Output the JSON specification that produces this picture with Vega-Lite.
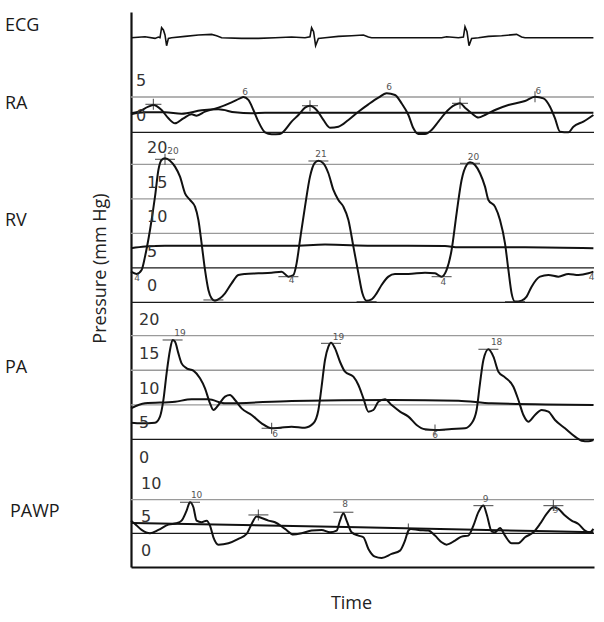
{
 "$schema": "https://vega.github.io/schema/vega-lite/v6.json",
 "width": 463, "height": 555,
 "autosize": {"type": "none"},
 "padding": {"left": 131, "top": 12, "right": 10, "bottom": 55},
 "background": "white",
 "config": {"view": {"stroke": null}, "text": {"font": "Open Sans"},
  "axisX": {"orient": "bottom", "domain": true, "domainColor": "#111111", "domainWidth": 2.2, "ticks": false, "labels": false, "grid": false,
            "titleFont": "Open Sans", "titleFontSize": 18, "titleFontWeight": "normal", "titleColor": "#222222",
            "titleX": 220, "titleY": 41, "titleAlign": "center", "titleBaseline": "alphabetic"}},
 "datasets": {
  "waves": [
   {"panel":"ECG","series":"wave","t":0,"value":0},{"panel":"ECG","series":"wave","t":0.07,"value":0.1},{"panel":"ECG","series":"wave","t":0.12,"value":-0.07},{"panel":"ECG","series":"wave","t":0.137,"value":0.07},{"panel":"ECG","series":"wave","t":0.145,"value":0},{"panel":"ECG","series":"wave","t":0.153,"value":1.0},{"panel":"ECG","series":"wave","t":0.162,"value":0.77},{"panel":"ECG","series":"wave","t":0.17,"value":0.27},{"panel":"ECG","series":"wave","t":0.178,"value":-0.8},{"panel":"ECG","series":"wave","t":0.187,"value":-0.07},{"panel":"ECG","series":"wave","t":0.203,"value":0},{"panel":"ECG","series":"wave","t":0.27,"value":0.13},{"panel":"ECG","series":"wave","t":0.337,"value":0.27},{"panel":"ECG","series":"wave","t":0.403,"value":0.33},{"panel":"ECG","series":"wave","t":0.428,"value":0.2},{"panel":"ECG","series":"wave","t":0.453,"value":0},{"panel":"ECG","series":"wave","t":0.553,"value":-0.07},{"panel":"ECG","series":"wave","t":0.637,"value":-0.07},{"panel":"ECG","series":"wave","t":0.72,"value":0},{"panel":"ECG","series":"wave","t":0.803,"value":0.07},{"panel":"ECG","series":"wave","t":0.87,"value":0},{"panel":"ECG","series":"wave","t":0.895,"value":0.1},{"panel":"ECG","series":"wave","t":0.903,"value":1.0},{"panel":"ECG","series":"wave","t":0.913,"value":0.6},{"panel":"ECG","series":"wave","t":0.923,"value":-0.8},{"panel":"ECG","series":"wave","t":0.937,"value":-0.07},{"panel":"ECG","series":"wave","t":0.97,"value":0},{"panel":"ECG","series":"wave","t":1.037,"value":0.13},{"panel":"ECG","series":"wave","t":1.103,"value":0.2},{"panel":"ECG","series":"wave","t":1.162,"value":0.27},{"panel":"ECG","series":"wave","t":1.187,"value":0.07},{"panel":"ECG","series":"wave","t":1.203,"value":0},{"panel":"ECG","series":"wave","t":1.553,"value":0},{"panel":"ECG","series":"wave","t":1.578,"value":0.1},{"panel":"ECG","series":"wave","t":1.637,"value":0},{"panel":"ECG","series":"wave","t":1.662,"value":0.07},{"panel":"ECG","series":"wave","t":1.67,"value":1.1},{"panel":"ECG","series":"wave","t":1.68,"value":0.6},{"panel":"ECG","series":"wave","t":1.69,"value":-0.8},{"panel":"ECG","series":"wave","t":1.703,"value":-0.07},{"panel":"ECG","series":"wave","t":1.737,"value":0},{"panel":"ECG","series":"wave","t":1.787,"value":0.13},{"panel":"ECG","series":"wave","t":1.853,"value":0.2},{"panel":"ECG","series":"wave","t":1.928,"value":0.33},{"panel":"ECG","series":"wave","t":1.953,"value":0.07},{"panel":"ECG","series":"wave","t":1.97,"value":0},{"panel":"ECG","series":"wave","t":2.312,"value":0},

   {"panel":"RA","series":"wave","t":0,"value":2.69},{"panel":"RA","series":"wave","t":0.037,"value":2.92},{"panel":"RA","series":"wave","t":0.087,"value":3.63},{"panel":"RA","series":"wave","t":0.112,"value":3.87},{"panel":"RA","series":"wave","t":0.153,"value":3.16},{"panel":"RA","series":"wave","t":0.187,"value":1.98},{"panel":"RA","series":"wave","t":0.22,"value":1.27},{"panel":"RA","series":"wave","t":0.262,"value":1.98},{"panel":"RA","series":"wave","t":0.303,"value":2.55},{"panel":"RA","series":"wave","t":0.328,"value":2.36},{"panel":"RA","series":"wave","t":0.37,"value":2.92},{"panel":"RA","series":"wave","t":0.437,"value":3.49},{"panel":"RA","series":"wave","t":0.503,"value":4.25},{"panel":"RA","series":"wave","t":0.545,"value":4.81},{"panel":"RA","series":"wave","t":0.562,"value":5.0},{"panel":"RA","series":"wave","t":0.587,"value":4.58},{"panel":"RA","series":"wave","t":0.612,"value":3.16},{"panel":"RA","series":"wave","t":0.637,"value":1.51},{"panel":"RA","series":"wave","t":0.67,"value":0},{"panel":"RA","series":"wave","t":0.703,"value":-0.28},{"panel":"RA","series":"wave","t":0.745,"value":-0.24},{"panel":"RA","series":"wave","t":0.77,"value":0.33},{"panel":"RA","series":"wave","t":0.803,"value":1.51},{"panel":"RA","series":"wave","t":0.837,"value":2.45},{"panel":"RA","series":"wave","t":0.87,"value":3.49},{"panel":"RA","series":"wave","t":0.895,"value":3.77},{"panel":"RA","series":"wave","t":0.928,"value":3.16},{"panel":"RA","series":"wave","t":0.962,"value":1.75},{"panel":"RA","series":"wave","t":0.995,"value":0.66},{"panel":"RA","series":"wave","t":1.037,"value":0.8},{"panel":"RA","series":"wave","t":1.087,"value":1.75},{"panel":"RA","series":"wave","t":1.137,"value":2.92},{"panel":"RA","series":"wave","t":1.187,"value":3.96},{"panel":"RA","series":"wave","t":1.237,"value":4.91},{"panel":"RA","series":"wave","t":1.278,"value":5.52},{"panel":"RA","series":"wave","t":1.32,"value":5.28},{"panel":"RA","series":"wave","t":1.353,"value":4.1},{"panel":"RA","series":"wave","t":1.387,"value":2.45},{"panel":"RA","series":"wave","t":1.412,"value":0.57},{"panel":"RA","series":"wave","t":1.437,"value":-0.24},{"panel":"RA","series":"wave","t":1.47,"value":-0.24},{"panel":"RA","series":"wave","t":1.503,"value":0.33},{"panel":"RA","series":"wave","t":1.537,"value":1.51},{"panel":"RA","series":"wave","t":1.57,"value":2.69},{"panel":"RA","series":"wave","t":1.62,"value":3.87},{"panel":"RA","series":"wave","t":1.645,"value":4.1},{"panel":"RA","series":"wave","t":1.67,"value":3.49},{"panel":"RA","series":"wave","t":1.703,"value":2.69},{"panel":"RA","series":"wave","t":1.737,"value":2.08},{"panel":"RA","series":"wave","t":1.77,"value":2.45},{"panel":"RA","series":"wave","t":1.82,"value":3.16},{"panel":"RA","series":"wave","t":1.887,"value":3.87},{"panel":"RA","series":"wave","t":1.97,"value":4.43},{"panel":"RA","series":"wave","t":2.02,"value":5.05},{"panel":"RA","series":"wave","t":2.062,"value":4.81},{"panel":"RA","series":"wave","t":2.095,"value":3.63},{"panel":"RA","series":"wave","t":2.12,"value":1.98},{"panel":"RA","series":"wave","t":2.145,"value":0.09},{"panel":"RA","series":"wave","t":2.187,"value":0},{"panel":"RA","series":"wave","t":2.212,"value":0.8},{"panel":"RA","series":"wave","t":2.262,"value":1.51},{"panel":"RA","series":"wave","t":2.312,"value":2.45},
   {"panel":"RA","series":"mean","t":0,"value":2.55},{"panel":"RA","series":"mean","t":0.07,"value":2.83},{"panel":"RA","series":"mean","t":0.17,"value":2.83},{"panel":"RA","series":"mean","t":0.253,"value":2.64},{"panel":"RA","series":"mean","t":0.353,"value":3.11},{"panel":"RA","series":"mean","t":0.437,"value":3.25},{"panel":"RA","series":"mean","t":0.52,"value":2.83},{"panel":"RA","series":"mean","t":0.603,"value":2.69},{"panel":"RA","series":"mean","t":0.67,"value":2.78},{"panel":"RA","series":"mean","t":2.312,"value":2.78},

   {"panel":"RV","series":"wave","t":0,"value":4.44},{"panel":"RV","series":"wave","t":0.028,"value":4.11},{"panel":"RV","series":"wave","t":0.053,"value":4.69},{"panel":"RV","series":"wave","t":0.07,"value":6.62},{"panel":"RV","series":"wave","t":0.095,"value":10.48},{"panel":"RV","series":"wave","t":0.12,"value":15.31},{"panel":"RV","series":"wave","t":0.137,"value":19.18},{"panel":"RV","series":"wave","t":0.153,"value":20.63},{"panel":"RV","series":"wave","t":0.17,"value":20.87},{"panel":"RV","series":"wave","t":0.195,"value":20.53},{"panel":"RV","series":"wave","t":0.22,"value":19.66},{"panel":"RV","series":"wave","t":0.245,"value":18.21},{"panel":"RV","series":"wave","t":0.27,"value":15.8},{"panel":"RV","series":"wave","t":0.295,"value":14.83},{"panel":"RV","series":"wave","t":0.32,"value":13.86},{"panel":"RV","series":"wave","t":0.337,"value":11.93},{"panel":"RV","series":"wave","t":0.353,"value":8.55},{"panel":"RV","series":"wave","t":0.37,"value":4.69},{"panel":"RV","series":"wave","t":0.387,"value":1.79},{"panel":"RV","series":"wave","t":0.403,"value":0.58},{"panel":"RV","series":"wave","t":0.42,"value":0.24},{"panel":"RV","series":"wave","t":0.445,"value":0.58},{"panel":"RV","series":"wave","t":0.47,"value":1.3},{"panel":"RV","series":"wave","t":0.503,"value":2.75},{"panel":"RV","series":"wave","t":0.537,"value":3.96},{"panel":"RV","series":"wave","t":0.57,"value":4.11},{"panel":"RV","series":"wave","t":0.637,"value":4.2},{"panel":"RV","series":"wave","t":0.703,"value":4.3},{"panel":"RV","series":"wave","t":0.753,"value":4.44},{"panel":"RV","series":"wave","t":0.787,"value":3.72},{"panel":"RV","series":"wave","t":0.812,"value":3.96},{"panel":"RV","series":"wave","t":0.828,"value":5.65},{"panel":"RV","series":"wave","t":0.845,"value":9.03},{"panel":"RV","series":"wave","t":0.87,"value":13.86},{"panel":"RV","series":"wave","t":0.895,"value":18.21},{"panel":"RV","series":"wave","t":0.917,"value":20.14},{"panel":"RV","series":"wave","t":0.937,"value":20.53},{"panel":"RV","series":"wave","t":0.962,"value":20.14},{"panel":"RV","series":"wave","t":0.987,"value":18.7},{"panel":"RV","series":"wave","t":1.012,"value":16.28},{"panel":"RV","series":"wave","t":1.037,"value":14.83},{"panel":"RV","series":"wave","t":1.062,"value":13.86},{"panel":"RV","series":"wave","t":1.087,"value":11.93},{"panel":"RV","series":"wave","t":1.112,"value":8.07},{"panel":"RV","series":"wave","t":1.137,"value":4.2},{"panel":"RV","series":"wave","t":1.157,"value":1.3},{"panel":"RV","series":"wave","t":1.178,"value":0.24},{"panel":"RV","series":"wave","t":1.203,"value":0.43},{"panel":"RV","series":"wave","t":1.228,"value":1.3},{"panel":"RV","series":"wave","t":1.253,"value":2.51},{"panel":"RV","series":"wave","t":1.287,"value":3.72},{"panel":"RV","series":"wave","t":1.32,"value":4.11},{"panel":"RV","series":"wave","t":1.387,"value":4.11},{"panel":"RV","series":"wave","t":1.47,"value":4.3},{"panel":"RV","series":"wave","t":1.52,"value":4.2},{"panel":"RV","series":"wave","t":1.553,"value":3.72},{"panel":"RV","series":"wave","t":1.578,"value":4.69},{"panel":"RV","series":"wave","t":1.603,"value":7.58},{"panel":"RV","series":"wave","t":1.628,"value":12.9},{"panel":"RV","series":"wave","t":1.653,"value":17.73},{"panel":"RV","series":"wave","t":1.678,"value":19.9},{"panel":"RV","series":"wave","t":1.695,"value":20.29},{"panel":"RV","series":"wave","t":1.72,"value":19.9},{"panel":"RV","series":"wave","t":1.745,"value":18.7},{"panel":"RV","series":"wave","t":1.77,"value":16.76},{"panel":"RV","series":"wave","t":1.787,"value":14.83},{"panel":"RV","series":"wave","t":1.82,"value":13.86},{"panel":"RV","series":"wave","t":1.845,"value":11.93},{"panel":"RV","series":"wave","t":1.87,"value":8.55},{"panel":"RV","series":"wave","t":1.887,"value":4.69},{"panel":"RV","series":"wave","t":1.903,"value":1.3},{"panel":"RV","series":"wave","t":1.92,"value":0.1},{"panel":"RV","series":"wave","t":1.953,"value":0.24},{"panel":"RV","series":"wave","t":1.978,"value":0.82},{"panel":"RV","series":"wave","t":2.003,"value":2.27},{"panel":"RV","series":"wave","t":2.045,"value":3.72},{"panel":"RV","series":"wave","t":2.087,"value":3.96},{"panel":"RV","series":"wave","t":2.137,"value":3.72},{"panel":"RV","series":"wave","t":2.187,"value":4.11},{"panel":"RV","series":"wave","t":2.237,"value":3.96},{"panel":"RV","series":"wave","t":2.287,"value":4.2},{"panel":"RV","series":"wave","t":2.312,"value":4.44},
   {"panel":"RV","series":"mean","t":0,"value":7.83},{"panel":"RV","series":"mean","t":0.07,"value":8.07},{"panel":"RV","series":"mean","t":0.17,"value":8.21},{"panel":"RV","series":"mean","t":0.803,"value":8.21},{"panel":"RV","series":"mean","t":0.97,"value":8.36},{"panel":"RV","series":"mean","t":1.203,"value":8.21},{"panel":"RV","series":"mean","t":1.57,"value":8.16},{"panel":"RV","series":"mean","t":1.637,"value":7.97},{"panel":"RV","series":"mean","t":1.97,"value":7.97},{"panel":"RV","series":"mean","t":2.312,"value":7.83},

   {"panel":"PA","series":"wave","t":0,"value":7.41},{"panel":"PA","series":"wave","t":0.053,"value":7.32},{"panel":"PA","series":"wave","t":0.12,"value":7.41},{"panel":"PA","series":"wave","t":0.145,"value":8.29},{"panel":"PA","series":"wave","t":0.162,"value":10.7},{"panel":"PA","series":"wave","t":0.178,"value":14.56},{"panel":"PA","series":"wave","t":0.195,"value":17.93},{"panel":"PA","series":"wave","t":0.208,"value":19.38},{"panel":"PA","series":"wave","t":0.22,"value":19.14},{"panel":"PA","series":"wave","t":0.237,"value":17.44},{"panel":"PA","series":"wave","t":0.253,"value":16.0},{"panel":"PA","series":"wave","t":0.278,"value":15.28},{"panel":"PA","series":"wave","t":0.312,"value":14.94},{"panel":"PA","series":"wave","t":0.345,"value":13.83},{"panel":"PA","series":"wave","t":0.37,"value":12.38},{"panel":"PA","series":"wave","t":0.395,"value":10.21},{"panel":"PA","series":"wave","t":0.412,"value":9.25},{"panel":"PA","series":"wave","t":0.437,"value":9.97},{"panel":"PA","series":"wave","t":0.47,"value":11.18},{"panel":"PA","series":"wave","t":0.495,"value":11.42},{"panel":"PA","series":"wave","t":0.52,"value":10.7},{"panel":"PA","series":"wave","t":0.553,"value":9.49},{"panel":"PA","series":"wave","t":0.603,"value":8.53},{"panel":"PA","series":"wave","t":0.653,"value":7.32},{"panel":"PA","series":"wave","t":0.703,"value":6.6},{"panel":"PA","series":"wave","t":0.745,"value":6.69},{"panel":"PA","series":"wave","t":0.803,"value":6.84},{"panel":"PA","series":"wave","t":0.87,"value":6.69},{"panel":"PA","series":"wave","t":0.912,"value":7.32},{"panel":"PA","series":"wave","t":0.937,"value":9.25},{"panel":"PA","series":"wave","t":0.953,"value":12.62},{"panel":"PA","series":"wave","t":0.97,"value":16.48},{"panel":"PA","series":"wave","t":0.987,"value":18.41},{"panel":"PA","series":"wave","t":1.0,"value":18.99},{"panel":"PA","series":"wave","t":1.02,"value":18.17},{"panel":"PA","series":"wave","t":1.045,"value":16.23},{"panel":"PA","series":"wave","t":1.07,"value":14.79},{"panel":"PA","series":"wave","t":1.112,"value":14.07},{"panel":"PA","series":"wave","t":1.137,"value":12.86},{"panel":"PA","series":"wave","t":1.162,"value":10.94},{"panel":"PA","series":"wave","t":1.187,"value":9.01},{"panel":"PA","series":"wave","t":1.212,"value":9.25},{"panel":"PA","series":"wave","t":1.237,"value":10.45},{"panel":"PA","series":"wave","t":1.27,"value":10.79},{"panel":"PA","series":"wave","t":1.303,"value":9.97},{"panel":"PA","series":"wave","t":1.345,"value":9.01},{"panel":"PA","series":"wave","t":1.387,"value":8.29},{"panel":"PA","series":"wave","t":1.428,"value":7.08},{"panel":"PA","series":"wave","t":1.47,"value":6.45},{"panel":"PA","series":"wave","t":1.52,"value":6.36},{"panel":"PA","series":"wave","t":1.603,"value":6.5},{"panel":"PA","series":"wave","t":1.67,"value":6.6},{"panel":"PA","series":"wave","t":1.703,"value":7.32},{"panel":"PA","series":"wave","t":1.728,"value":9.25},{"panel":"PA","series":"wave","t":1.745,"value":13.1},{"panel":"PA","series":"wave","t":1.762,"value":16.48},{"panel":"PA","series":"wave","t":1.787,"value":18.03},{"panel":"PA","series":"wave","t":1.812,"value":16.97},{"panel":"PA","series":"wave","t":1.837,"value":14.79},{"panel":"PA","series":"wave","t":1.87,"value":13.97},{"panel":"PA","series":"wave","t":1.912,"value":12.62},{"panel":"PA","series":"wave","t":1.937,"value":10.7},{"panel":"PA","series":"wave","t":1.962,"value":8.53},{"panel":"PA","series":"wave","t":1.987,"value":7.56},{"panel":"PA","series":"wave","t":2.02,"value":8.53},{"panel":"PA","series":"wave","t":2.053,"value":9.25},{"panel":"PA","series":"wave","t":2.087,"value":9.01},{"panel":"PA","series":"wave","t":2.12,"value":7.8},{"panel":"PA","series":"wave","t":2.17,"value":6.6},{"panel":"PA","series":"wave","t":2.22,"value":5.39},{"panel":"PA","series":"wave","t":2.253,"value":4.81},{"panel":"PA","series":"wave","t":2.287,"value":4.71},{"panel":"PA","series":"wave","t":2.312,"value":4.91},
   {"panel":"PA","series":"mean","t":0,"value":9.49},{"panel":"PA","series":"mean","t":0.07,"value":10.21},{"panel":"PA","series":"mean","t":0.22,"value":10.45},{"panel":"PA","series":"mean","t":0.303,"value":10.79},{"panel":"PA","series":"mean","t":0.387,"value":10.79},{"panel":"PA","series":"mean","t":0.47,"value":10.21},{"panel":"PA","series":"mean","t":0.803,"value":10.55},{"panel":"PA","series":"mean","t":1.303,"value":10.7},{"panel":"PA","series":"mean","t":1.637,"value":10.6},{"panel":"PA","series":"mean","t":1.803,"value":10.21},{"panel":"PA","series":"mean","t":2.312,"value":9.97},

   {"panel":"PAWP","series":"wave","t":0,"value":6.88},{"panel":"PAWP","series":"wave","t":0.02,"value":6.39},{"panel":"PAWP","series":"wave","t":0.053,"value":5.5},{"panel":"PAWP","series":"wave","t":0.095,"value":5.0},{"panel":"PAWP","series":"wave","t":0.137,"value":5.5},{"panel":"PAWP","series":"wave","t":0.187,"value":6.29},{"panel":"PAWP","series":"wave","t":0.228,"value":6.49},{"panel":"PAWP","series":"wave","t":0.253,"value":6.88},{"panel":"PAWP","series":"wave","t":0.278,"value":8.37},{"panel":"PAWP","series":"wave","t":0.295,"value":9.6},{"panel":"PAWP","series":"wave","t":0.312,"value":8.86},{"panel":"PAWP","series":"wave","t":0.328,"value":6.88},{"panel":"PAWP","series":"wave","t":0.353,"value":6.64},{"panel":"PAWP","series":"wave","t":0.378,"value":6.88},{"panel":"PAWP","series":"wave","t":0.395,"value":6.14},{"panel":"PAWP","series":"wave","t":0.412,"value":4.41},{"panel":"PAWP","series":"wave","t":0.437,"value":3.32},{"panel":"PAWP","series":"wave","t":0.487,"value":3.52},{"panel":"PAWP","series":"wave","t":0.537,"value":4.16},{"panel":"PAWP","series":"wave","t":0.578,"value":4.9},{"panel":"PAWP","series":"wave","t":0.603,"value":6.39},{"panel":"PAWP","series":"wave","t":0.628,"value":7.48},{"panel":"PAWP","series":"wave","t":0.653,"value":7.28},{"panel":"PAWP","series":"wave","t":0.687,"value":6.88},{"panel":"PAWP","series":"wave","t":0.72,"value":6.64},{"panel":"PAWP","series":"wave","t":0.77,"value":5.65},{"panel":"PAWP","series":"wave","t":0.812,"value":4.81},{"panel":"PAWP","series":"wave","t":0.853,"value":5.0},{"panel":"PAWP","series":"wave","t":0.903,"value":5.4},{"panel":"PAWP","series":"wave","t":0.953,"value":5.5},{"panel":"PAWP","series":"wave","t":0.995,"value":5.15},{"panel":"PAWP","series":"wave","t":1.028,"value":5.4},{"panel":"PAWP","series":"wave","t":1.045,"value":6.88},{"panel":"PAWP","series":"wave","t":1.062,"value":7.97},{"panel":"PAWP","series":"wave","t":1.078,"value":6.88},{"panel":"PAWP","series":"wave","t":1.103,"value":5.15},{"panel":"PAWP","series":"wave","t":1.137,"value":4.66},{"panel":"PAWP","series":"wave","t":1.162,"value":4.41},{"panel":"PAWP","series":"wave","t":1.187,"value":2.68},{"panel":"PAWP","series":"wave","t":1.22,"value":1.54},{"panel":"PAWP","series":"wave","t":1.253,"value":1.35},{"panel":"PAWP","series":"wave","t":1.303,"value":1.94},{"panel":"PAWP","series":"wave","t":1.345,"value":2.43},{"panel":"PAWP","series":"wave","t":1.37,"value":3.92},{"panel":"PAWP","series":"wave","t":1.387,"value":5.4},{"panel":"PAWP","series":"wave","t":1.4,"value":5.65},{"panel":"PAWP","series":"wave","t":1.437,"value":5.5},{"panel":"PAWP","series":"wave","t":1.487,"value":5.4},{"panel":"PAWP","series":"wave","t":1.52,"value":4.66},{"panel":"PAWP","series":"wave","t":1.553,"value":3.67},{"panel":"PAWP","series":"wave","t":1.578,"value":3.32},{"panel":"PAWP","series":"wave","t":1.62,"value":3.92},{"panel":"PAWP","series":"wave","t":1.653,"value":4.51},{"panel":"PAWP","series":"wave","t":1.687,"value":4.66},{"panel":"PAWP","series":"wave","t":1.712,"value":6.14},{"panel":"PAWP","series":"wave","t":1.737,"value":8.14},{"panel":"PAWP","series":"wave","t":1.762,"value":9.11},{"panel":"PAWP","series":"wave","t":1.778,"value":7.87},{"panel":"PAWP","series":"wave","t":1.803,"value":5.3},{"panel":"PAWP","series":"wave","t":1.82,"value":5.15},{"panel":"PAWP","series":"wave","t":1.845,"value":5.8},{"panel":"PAWP","series":"wave","t":1.87,"value":4.66},{"panel":"PAWP","series":"wave","t":1.903,"value":3.52},{"panel":"PAWP","series":"wave","t":1.937,"value":3.52},{"panel":"PAWP","series":"wave","t":1.97,"value":4.41},{"panel":"PAWP","series":"wave","t":2.012,"value":5.15},{"panel":"PAWP","series":"wave","t":2.045,"value":6.39},{"panel":"PAWP","series":"wave","t":2.078,"value":7.87},{"panel":"PAWP","series":"wave","t":2.112,"value":8.86},{"panel":"PAWP","series":"wave","t":2.137,"value":8.61},{"panel":"PAWP","series":"wave","t":2.17,"value":7.63},{"panel":"PAWP","series":"wave","t":2.203,"value":6.88},{"panel":"PAWP","series":"wave","t":2.237,"value":6.39},{"panel":"PAWP","series":"wave","t":2.27,"value":5.4},{"panel":"PAWP","series":"wave","t":2.295,"value":5.15},{"panel":"PAWP","series":"wave","t":2.312,"value":5.65},
   {"panel":"PAWP","series":"mean","t":0,"value":6.54},{"panel":"PAWP","series":"mean","t":1.137,"value":5.9},{"panel":"PAWP","series":"mean","t":2.312,"value":5.15}
  ],
  "grid": [
   {"panel":"RA","value":5,"shade":"minor"},{"panel":"RA","value":0,"shade":"major"},
   {"panel":"RV","value":20,"shade":"minor"},{"panel":"RV","value":15,"shade":"minor"},{"panel":"RV","value":10,"shade":"minor"},{"panel":"RV","value":5,"shade":"major"},{"panel":"RV","value":0,"shade":"major"},
   {"panel":"PA","value":20,"shade":"minor"},{"panel":"PA","value":15,"shade":"minor"},{"panel":"PA","value":10,"shade":"minor"},{"panel":"PA","value":5,"shade":"major"},
   {"panel":"PAWP","value":10,"shade":"minor"},{"panel":"PAWP","value":5,"shade":"major"}
  ],
  "ticklabels": [
   {"panel":"RA","value":5,"label":"5"},{"panel":"RA","value":0,"label":"0"},
   {"panel":"RV","value":20,"label":"20"},{"panel":"RV","value":15,"label":"15"},{"panel":"RV","value":10,"label":"10"},{"panel":"RV","value":5,"label":"5"},{"panel":"RV","value":0,"label":"0"},
   {"panel":"PA","value":20,"label":"20"},{"panel":"PA","value":15,"label":"15"},{"panel":"PA","value":10,"label":"10"},{"panel":"PA","value":5,"label":"5"},{"panel":"PA","value":0,"label":"0"},
   {"panel":"PAWP","value":10,"label":"10"},{"panel":"PAWP","value":5,"label":"5"},{"panel":"PAWP","value":0,"label":"0"}
  ],
  "channels": [
   {"panel":"ECG","value":1.17,"label":"ECG"},{"panel":"RA","value":4.0,"label":"RA"},{"panel":"RV","value":11.78,"label":"RV"},{"panel":"PA","value":15.33,"label":"PA"},{"panel":"PAWP","value":8.09,"label":"PAWP"}
  ],
  "markers": [
   {"panel":"RA","t":0.112,"value":3.96,"kind":"h"},{"panel":"RA","t":0.895,"value":3.77,"kind":"h"},{"panel":"RA","t":1.645,"value":4.1,"kind":"h"},
   {"panel":"RA","t":0.112,"value":3.96,"kind":"v"},{"panel":"RA","t":0.895,"value":3.77,"kind":"v"},{"panel":"RA","t":1.645,"value":4.1,"kind":"v"},{"panel":"RA","t":2.02,"value":5.05,"kind":"v"},
   {"panel":"RV","t":0.17,"value":20.72,"kind":"h"},{"panel":"RV","t":0.937,"value":20.48,"kind":"h"},{"panel":"RV","t":1.695,"value":20.14,"kind":"h"},{"panel":"RV","t":0.412,"value":0.34,"kind":"h"},{"panel":"RV","t":1.178,"value":0.1,"kind":"h"},{"panel":"RV","t":1.92,"value":0.1,"kind":"h"},{"panel":"RV","t":0.787,"value":3.72,"kind":"h"},{"panel":"RV","t":1.553,"value":3.72,"kind":"h"},
   {"panel":"RV","t":0.17,"value":20.72,"kind":"v"},
   {"panel":"PA","t":0.208,"value":19.38,"kind":"h"},{"panel":"PA","t":1.0,"value":18.89,"kind":"h"},{"panel":"PA","t":1.787,"value":18.03,"kind":"h"},{"panel":"PA","t":0.703,"value":6.6,"kind":"h"},{"panel":"PA","t":1.52,"value":6.36,"kind":"h"},
   {"panel":"PA","t":0.703,"value":6.6,"kind":"v"},{"panel":"PA","t":1.52,"value":6.36,"kind":"v"},
   {"panel":"PAWP","t":0.295,"value":9.6,"kind":"h"},{"panel":"PAWP","t":0.637,"value":7.72,"kind":"h"},{"panel":"PAWP","t":1.062,"value":8.12,"kind":"h"},{"panel":"PAWP","t":1.762,"value":9.11,"kind":"h"},{"panel":"PAWP","t":2.112,"value":9.11,"kind":"h"},
   {"panel":"PAWP","t":0.637,"value":7.72,"kind":"v"},{"panel":"PAWP","t":1.387,"value":5.65,"kind":"v"},{"panel":"PAWP","t":2.112,"value":9.11,"kind":"v"}
  ],
  "notes": [
   {"panel":"RA","t":0.57,"value":5.66,"label":"6"},{"panel":"RA","t":1.29,"value":6.46,"label":"6"},{"panel":"RA","t":2.037,"value":5.85,"label":"6"},
   {"panel":"RV","t":0.21,"value":21.9,"label":"20"},{"panel":"RV","t":0.95,"value":21.5,"label":"21"},{"panel":"RV","t":1.712,"value":21.1,"label":"20"},{"panel":"RV","t":0.803,"value":3.24,"label":"4"},{"panel":"RV","t":1.562,"value":3.0,"label":"4"},{"panel":"RV","t":2.303,"value":3.72,"label":"4"},{"panel":"RV","t":0.03,"value":3.5,"label":"4"},
   {"panel":"PA","t":0.245,"value":20.44,"label":"19"},{"panel":"PA","t":1.037,"value":19.76,"label":"19"},{"panel":"PA","t":1.828,"value":19.13,"label":"18"},{"panel":"PA","t":0.72,"value":5.8,"label":"6"},{"panel":"PA","t":1.52,"value":5.7,"label":"6"},
   {"panel":"PAWP","t":0.328,"value":10.73,"label":"10"},{"panel":"PAWP","t":1.07,"value":9.36,"label":"8"},{"panel":"PAWP","t":1.773,"value":10.1,"label":"9"},{"panel":"PAWP","t":2.123,"value":8.47,"label":"9"}
  ]
 },
 "layer": [
  {
   "encoding": {"y": {"field": "value", "type": "quantitative", "scale": {"domain": [-1, 1], "range": [35.7, 15.7], "nice": false, "zero": false}, "axis": null}},
   "layer": [
    {"data": {"name": "waves"}, "transform": [{"filter": "datum.panel==='ECG'"}], "mark": {"type": "line", "color": "#111111", "strokeWidth": 1.6},
     "encoding": {"x": {"field": "t", "type": "quantitative", "title": "Time", "scale": {"domain": [0, 2.315], "nice": false, "zero": false}}}},
    {"data": {"name": "channels"}, "transform": [{"filter": "datum.panel==='ECG'"}], "mark": {"type": "text", "align": "left", "baseline": "middle", "dx": -126, "font": "Open Sans", "fontSize": 18, "color": "#1a1a1a", "clip": false}, "encoding": {"x": {"datum": 0}, "text": {"field": "label"}}}
   ]
  },
  {
   "encoding": {"y": {"field": "value", "type": "quantitative", "scale": {"domain": [0, 5], "range": [120.3, 85], "nice": false, "zero": false}, "axis": null}},
   "layer": [
    {"data": {"name": "grid"}, "transform": [{"filter": "datum.panel==='RA'"}], "mark": {"type": "rule", "strokeWidth": 1.3}, "encoding": {"x": {"datum": 0}, "x2": {"datum": 2.315}, "color": {"field": "shade", "type": "nominal", "scale": {"domain": ["minor", "major"], "range": ["#9a9a9a", "#1a1a1a"]}, "legend": null}}},
    {"data": {"name": "waves"}, "transform": [{"filter": "datum.panel==='RA'"}], "mark": {"type": "line", "color": "#111111", "strokeWidth": 2, "interpolate": "monotone"}, "encoding": {"x": {"field": "t", "type": "quantitative", "title": "Time"}, "detail": {"field": "series"}}},
    {"data": {"name": "ticklabels"}, "transform": [{"filter": "datum.panel==='RA'"}], "mark": {"type": "text", "align": "left", "baseline": "middle", "dx": 5, "dy": -16, "font": "DejaVu Sans", "fontSize": 16, "color": "#333333"}, "encoding": {"x": {"datum": 0}, "text": {"field": "label"}}},
    {"data": {"name": "channels"}, "transform": [{"filter": "datum.panel==='RA'"}], "mark": {"type": "text", "align": "left", "baseline": "middle", "dx": -126, "font": "Open Sans", "fontSize": 18, "color": "#1a1a1a", "clip": false}, "encoding": {"x": {"datum": 0}, "text": {"field": "label"}}},
    {"data": {"name": "markers"}, "transform": [{"filter": "datum.panel==='RA' && datum.kind==='h'"}], "mark": {"type": "tick", "orient": "horizontal", "size": 16, "thickness": 1.2, "color": "#222222"}, "encoding": {"x": {"field": "t", "type": "quantitative", "title": "Time"}}},
    {"data": {"name": "markers"}, "transform": [{"filter": "datum.panel==='RA' && datum.kind==='v'"}], "mark": {"type": "tick", "orient": "vertical", "size": 11, "thickness": 1.2, "color": "#222222"}, "encoding": {"x": {"field": "t", "type": "quantitative", "title": "Time"}}},
    {"data": {"name": "notes"}, "transform": [{"filter": "datum.panel==='RA'"}], "mark": {"type": "text", "align": "center", "baseline": "middle", "font": "DejaVu Sans", "fontSize": 9, "color": "#555555"}, "encoding": {"x": {"field": "t", "type": "quantitative", "title": "Time"}, "text": {"field": "label"}}}
   ]
  },
  {
   "encoding": {"y": {"field": "value", "type": "quantitative", "scale": {"domain": [0, 20], "range": [290.3, 152.3], "nice": false, "zero": false}, "axis": null}},
   "layer": [
    {"data": {"name": "grid"}, "transform": [{"filter": "datum.panel==='RV'"}], "mark": {"type": "rule", "strokeWidth": 1.3}, "encoding": {"x": {"datum": 0}, "x2": {"datum": 2.315}, "color": {"field": "shade", "type": "nominal", "scale": {"domain": ["minor", "major"], "range": ["#9a9a9a", "#1a1a1a"]}, "legend": null}}},
    {"data": {"name": "waves"}, "transform": [{"filter": "datum.panel==='RV'"}], "mark": {"type": "line", "color": "#111111", "strokeWidth": 2, "interpolate": "monotone"}, "encoding": {"x": {"field": "t", "type": "quantitative", "title": "Time"}, "detail": {"field": "series"}}},
    {"data": {"name": "ticklabels"}, "transform": [{"filter": "datum.panel==='RV'"}], "mark": {"type": "text", "align": "left", "baseline": "middle", "dx": 16, "dy": -16, "font": "DejaVu Sans", "fontSize": 16, "color": "#333333"}, "encoding": {"x": {"datum": 0}, "text": {"field": "label"}}},
    {"data": {"name": "channels"}, "transform": [{"filter": "datum.panel==='RV'"}], "mark": {"type": "text", "align": "left", "baseline": "middle", "dx": -126, "font": "Open Sans", "fontSize": 18, "color": "#1a1a1a", "clip": false}, "encoding": {"x": {"datum": 0}, "text": {"field": "label"}}},
    {"data": {"name": "markers"}, "transform": [{"filter": "datum.panel==='RV' && datum.kind==='h'"}], "mark": {"type": "tick", "orient": "horizontal", "size": 20, "thickness": 1.2, "color": "#222222"}, "encoding": {"x": {"field": "t", "type": "quantitative", "title": "Time"}}},
    {"data": {"name": "markers"}, "transform": [{"filter": "datum.panel==='RV' && datum.kind==='v'"}], "mark": {"type": "tick", "orient": "vertical", "size": 11, "thickness": 1.2, "color": "#222222"}, "encoding": {"x": {"field": "t", "type": "quantitative", "title": "Time"}}},
    {"data": {"name": "notes"}, "transform": [{"filter": "datum.panel==='RV'"}], "mark": {"type": "text", "align": "center", "baseline": "middle", "font": "DejaVu Sans", "fontSize": 9, "color": "#555555"}, "encoding": {"x": {"field": "t", "type": "quantitative", "title": "Time"}, "text": {"field": "label"}}}
   ]
  },
  {
   "encoding": {"y": {"field": "value", "type": "quantitative", "scale": {"domain": [0, 20], "range": [461.9, 323.7], "nice": false, "zero": false}, "axis": null}},
   "layer": [
    {"data": {"name": "grid"}, "transform": [{"filter": "datum.panel==='PA'"}], "mark": {"type": "rule", "strokeWidth": 1.3}, "encoding": {"x": {"datum": 0}, "x2": {"datum": 2.315}, "color": {"field": "shade", "type": "nominal", "scale": {"domain": ["minor", "major"], "range": ["#9a9a9a", "#1a1a1a"]}, "legend": null}}},
    {"data": {"name": "waves"}, "transform": [{"filter": "datum.panel==='PA'"}], "mark": {"type": "line", "color": "#111111", "strokeWidth": 2, "interpolate": "monotone"}, "encoding": {"x": {"field": "t", "type": "quantitative", "title": "Time"}, "detail": {"field": "series"}}},
    {"data": {"name": "ticklabels"}, "transform": [{"filter": "datum.panel==='PA'"}], "mark": {"type": "text", "align": "left", "baseline": "middle", "dx": 8, "dy": -16, "font": "DejaVu Sans", "fontSize": 16, "color": "#333333"}, "encoding": {"x": {"datum": 0}, "text": {"field": "label"}}},
    {"data": {"name": "channels"}, "transform": [{"filter": "datum.panel==='PA'"}], "mark": {"type": "text", "align": "left", "baseline": "middle", "dx": -126, "font": "Open Sans", "fontSize": 18, "color": "#1a1a1a", "clip": false}, "encoding": {"x": {"datum": 0}, "text": {"field": "label"}}},
    {"data": {"name": "markers"}, "transform": [{"filter": "datum.panel==='PA' && datum.kind==='h'"}], "mark": {"type": "tick", "orient": "horizontal", "size": 20, "thickness": 1.2, "color": "#222222"}, "encoding": {"x": {"field": "t", "type": "quantitative", "title": "Time"}}},
    {"data": {"name": "markers"}, "transform": [{"filter": "datum.panel==='PA' && datum.kind==='v'"}], "mark": {"type": "tick", "orient": "vertical", "size": 11, "thickness": 1.2, "color": "#222222"}, "encoding": {"x": {"field": "t", "type": "quantitative", "title": "Time"}}},
    {"data": {"name": "notes"}, "transform": [{"filter": "datum.panel==='PA'"}], "mark": {"type": "text", "align": "center", "baseline": "middle", "font": "DejaVu Sans", "fontSize": 9, "color": "#555555"}, "encoding": {"x": {"field": "t", "type": "quantitative", "title": "Time"}, "text": {"field": "label"}}}
   ]
  },
  {
   "encoding": {"y": {"field": "value", "type": "quantitative", "scale": {"domain": [0, 82.35], "nice": false, "zero": false},
     "axis": {"orient": "left", "domain": true, "domainColor": "#111111", "domainWidth": 2.2, "ticks": false, "labels": false, "grid": false,
              "title": "Pressure (mm Hg)", "titleFont": "Open Sans", "titleFontSize": 18, "titleFontWeight": "normal", "titleColor": "#222222",
              "titleAngle": -90, "titleX": -31, "titleY": 256, "titleAlign": "center", "titleBaseline": "middle"}}},
   "layer": [
    {"data": {"name": "grid"}, "transform": [{"filter": "datum.panel==='PAWP'"}], "mark": {"type": "rule", "strokeWidth": 1.3}, "encoding": {"x": {"datum": 0}, "x2": {"datum": 2.315}, "color": {"field": "shade", "type": "nominal", "scale": {"domain": ["minor", "major"], "range": ["#9a9a9a", "#1a1a1a"]}, "legend": null}}},
    {"data": {"name": "waves"}, "transform": [{"filter": "datum.panel==='PAWP'"}], "mark": {"type": "line", "color": "#111111", "strokeWidth": 2, "interpolate": "monotone"}, "encoding": {"x": {"field": "t", "type": "quantitative", "title": "Time"}, "detail": {"field": "series"}}},
    {"data": {"name": "ticklabels"}, "transform": [{"filter": "datum.panel==='PAWP'"}], "mark": {"type": "text", "align": "left", "baseline": "middle", "dx": 10, "dy": -16, "font": "DejaVu Sans", "fontSize": 16, "color": "#333333"}, "encoding": {"x": {"datum": 0}, "text": {"field": "label"}}},
    {"data": {"name": "channels"}, "transform": [{"filter": "datum.panel==='PAWP'"}], "mark": {"type": "text", "align": "left", "baseline": "middle", "dx": -121, "font": "Open Sans", "fontSize": 18, "color": "#1a1a1a", "clip": false}, "encoding": {"x": {"datum": 0}, "text": {"field": "label"}}},
    {"data": {"name": "markers"}, "transform": [{"filter": "datum.panel==='PAWP' && datum.kind==='h'"}], "mark": {"type": "tick", "orient": "horizontal", "size": 20, "thickness": 1.2, "color": "#222222"}, "encoding": {"x": {"field": "t", "type": "quantitative", "title": "Time"}}},
    {"data": {"name": "markers"}, "transform": [{"filter": "datum.panel==='PAWP' && datum.kind==='v'"}], "mark": {"type": "tick", "orient": "vertical", "size": 11, "thickness": 1.2, "color": "#222222"}, "encoding": {"x": {"field": "t", "type": "quantitative", "title": "Time"}}},
    {"data": {"name": "notes"}, "transform": [{"filter": "datum.panel==='PAWP'"}], "mark": {"type": "text", "align": "center", "baseline": "middle", "font": "DejaVu Sans", "fontSize": 9, "color": "#555555"}, "encoding": {"x": {"field": "t", "type": "quantitative", "title": "Time"}, "text": {"field": "label"}}}
   ]
  }
 ],
 "resolve": {"scale": {"y": "independent"}}
}
